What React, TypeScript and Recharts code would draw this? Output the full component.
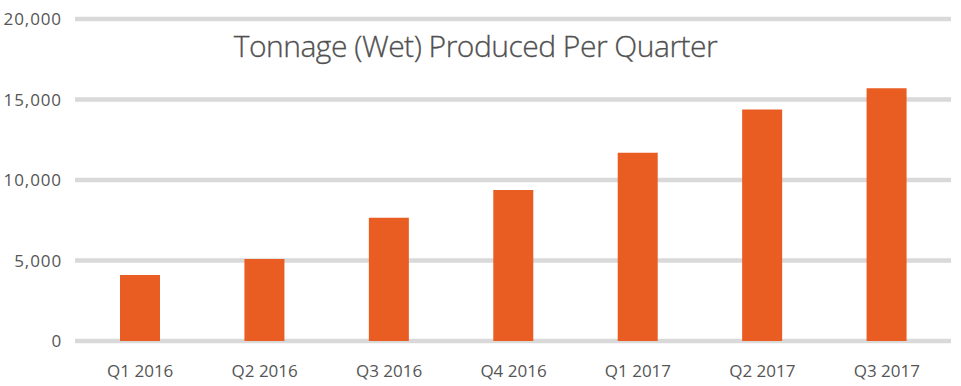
import React from "react";
import { BarChart, Bar, XAxis, YAxis, CartesianGrid } from "recharts";

const categories = ["Q1 2016", "Q2 2016", "Q3 2016", "Q4 2016", "Q1 2017", "Q2 2017", "Q3 2017"];
const tonnage = [4100, 5100, 7650, 9380, 11700, 14380, 15700];
const yTicks = [0, 5000, 10000, 15000, 20000];
const title = "Tonnage (Wet) Produced Per Quarter";

const data = categories.map((q, i) => ({ q, v: tonnage[i] }));

const FONT = "'Open Sans', 'DejaVu Sans', sans-serif";
const TEXT = "#555555";

export default function App() {
  return (
    <div style={{ position: "absolute", left: 0, top: 0, width: 961, height: 386, background: "#fff" }}>
      <BarChart
        width={961}
        height={386}
        data={data}
        margin={{ top: 19, right: 10, bottom: 0, left: 0 }}
        barSize={40}
      >
        <CartesianGrid vertical={false} stroke="#D9D9D9" strokeWidth={4.5} />
        <XAxis
          dataKey="q"
          height={45}
          axisLine={false}
          tickLine={false}
          tickMargin={18}
          padding={{ left: 3, right: 2 }}
          tick={{ fill: TEXT, fontSize: 17, fontFamily: FONT }}
        />
        <YAxis
          width={75}
          domain={[0, 20000]}
          ticks={yTicks}
          axisLine={false}
          tickLine={false}
          tickMargin={7}
          tickFormatter={(v: number) => v.toLocaleString("en-US")}
          tick={{ fill: TEXT, fontSize: 17, fontFamily: FONT, letterSpacing: 0.9 }}
        />
        <Bar dataKey="v" fill="#E95C22" isAnimationActive={false} />
      </BarChart>
      <div
        style={{
          position: "absolute",
          left: 0,
          width: 961,
          top: 26,
          textAlign: "center",
          fontFamily: FONT,
          fontWeight: 300,
          fontSize: 30,
          color: "#505050",
          lineHeight: "40px",
          letterSpacing: -0.5,
          paddingRight: 10,
          boxSizing: "border-box",
          WebkitTextStroke: "0.3px #505050",
        }}
      >
        {title}
      </div>
    </div>
  );
}
